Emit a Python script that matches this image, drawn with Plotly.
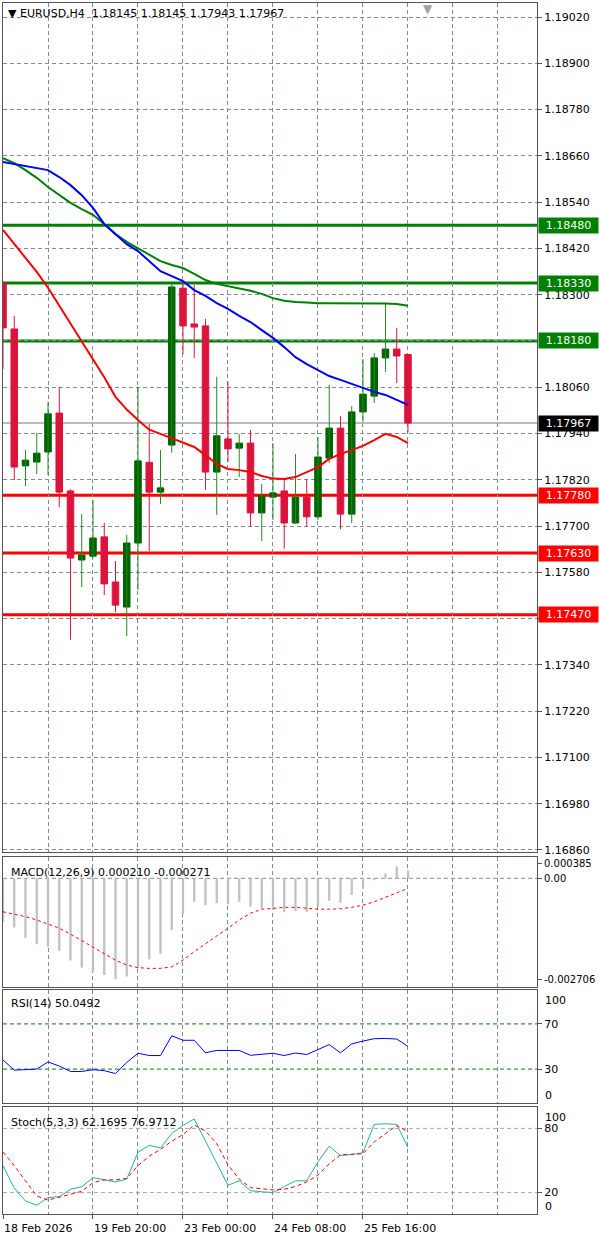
import plotly.graph_objects as go
from plotly.subplots import make_subplots

W, H = 600, 1239
ML, MR, MT, MB = 3, 63, 3, 25

# x axis labels (bar index -> text)
TICK_BARS = [0, 8, 16, 24, 32]
TICK_TEXT = ["18 Feb 2026", "19 Feb 20:00", "23 Feb 00:00", "24 Feb 08:00", "25 Feb 16:00"]

# price scale of the main window
PRICE_TICKS = [1.16860, 1.16980, 1.17100, 1.17220, 1.17340, 1.17460, 1.17580, 1.17700, 1.17820,
               1.17940, 1.18060, 1.18180, 1.18300, 1.18420, 1.18540, 1.18660, 1.18780, 1.18900, 1.19020]
HIDDEN_TICKS = [1.17460, 1.18180]  # covered by the level boxes in MT4

# EURUSD H4 candles
OPEN = [1.18330, 1.18211, 1.17856, 1.17866, 1.17892, 1.17993, 1.17791, 1.17612, 1.17622, 1.17672,
        1.17555, 1.17490, 1.17656, 1.17865, 1.17788, 1.17910, 1.18317, 1.18224, 1.18219, 1.17840,
        1.17926, 1.17902, 1.17915, 1.17734, 1.17775, 1.17791, 1.17708, 1.17775, 1.17724, 1.17876,
        1.17954, 1.17731, 1.17996, 1.18037, 1.18136, 1.18159, 1.18145]
HIGH = [1.18335, 1.18245, 1.17897, 1.17941, 1.18022, 1.18061, 1.17795, 1.17731, 1.17768, 1.17708,
        1.17609, 1.17677, 1.18061, 1.17965, 1.17897, 1.18328, 1.18330, 1.18325, 1.18237, 1.18087,
        1.18074, 1.17939, 1.17949, 1.17809, 1.17915, 1.17819, 1.17887, 1.17822, 1.17931, 1.18066,
        1.17985, 1.18011, 1.18133, 1.18149, 1.18276, 1.18214, 1.18145]
LOW = [1.18107, 1.17819, 1.17804, 1.17835, 1.17832, 1.17749, 1.17405, 1.17542, 1.17617, 1.17521,
       1.17477, 1.17415, 1.17534, 1.17635, 1.17757, 1.17890, 1.18146, 1.18136, 1.17794, 1.17729,
       1.17866, 1.17827, 1.17698, 1.17661, 1.17716, 1.17641, 1.17705, 1.17698, 1.17716, 1.17864,
       1.17692, 1.17708, 1.17970, 1.18019, 1.18100, 1.18071, 1.17943]
CLOSE = [1.18214, 1.17853, 1.17871, 1.17889, 1.17991, 1.17788, 1.17617, 1.17625, 1.17669, 1.17550,
         1.17495, 1.17656, 1.17869, 1.17788, 1.17799, 1.18320, 1.18219, 1.18216, 1.17840, 1.17934,
         1.17900, 1.17915, 1.17734, 1.17778, 1.17786, 1.17708, 1.17775, 1.17724, 1.17879, 1.17954,
         1.17731, 1.17996, 1.18042, 1.18136, 1.18159, 1.18141, 1.17967]

# moving averages
MA_BLUE = [1.18644, 1.18639, 1.18634, 1.18628, 1.18623, 1.18605, 1.18584, 1.18558, 1.18525, 1.18483,
           1.18457, 1.18431, 1.18413, 1.18387, 1.18361, 1.18348, 1.18335, 1.18312, 1.18297, 1.18278,
           1.18263, 1.18245, 1.18229, 1.18208, 1.18188, 1.18164, 1.18138, 1.18120, 1.18105, 1.18089,
           1.18079, 1.18068, 1.18058, 1.18048, 1.18040, 1.18027, 1.18014]
MA_GREEN = [1.18654, 1.18641, 1.18623, 1.18603, 1.18579, 1.18558, 1.18538, 1.18522, 1.18507, 1.18483,
            1.18457, 1.18437, 1.18421, 1.18405, 1.18387, 1.18377, 1.18369, 1.18354, 1.18338, 1.18328,
            1.18322, 1.18315, 1.18310, 1.18302, 1.18291, 1.18284, 1.18281, 1.18280, 1.18278, 1.18278,
            1.18278, 1.18278, 1.18278, 1.18278, 1.18277, 1.18276, 1.18271]
MA_RED = [1.18468, 1.18432, 1.18395, 1.18359, 1.18318, 1.18271, 1.18224, 1.18177, 1.18132, 1.18086,
          1.18035, 1.18002, 1.17975, 1.17950, 1.17939, 1.17928, 1.17915, 1.17905, 1.17884, 1.17861,
          1.17848, 1.17845, 1.17840, 1.17830, 1.17823, 1.17822, 1.17827, 1.17840, 1.17853, 1.17874,
          1.17887, 1.17897, 1.17908, 1.17923, 1.17939, 1.17931, 1.17915]

RESIST_LEVELS = [1.18480, 1.18330, 1.18180]
SUPPORT_LEVELS = [1.17780, 1.17630, 1.17470]
LAST_PRICE = 1.17967

MACD_MAIN = [-0.00117, -0.00132, -0.00160, -0.00177, -0.00184, -0.00195, -0.00221, -0.00240, -0.00251, -0.00260,
             -0.002706, -0.00264, -0.00242, -0.00218, -0.00203, -0.00139, -0.00096, -0.00063, -0.00072, -0.00067,
             -0.00070, -0.00063, -0.00076, -0.00081, -0.00085, -0.00091, -0.00088, -0.00090, -0.00077, -0.00060,
             -0.00066, -0.00045, -0.00027, -0.00005, 0.00013, 0.00032, 0.00021]
MACD_SIGNAL = [-0.00090, -0.00096, -0.00103, -0.00112, -0.00123, -0.00134, -0.00150, -0.00168, -0.00184, -0.00203,
               -0.00220, -0.00233, -0.00240, -0.00242, -0.00242, -0.00238, -0.00220, -0.00197, -0.00175, -0.00155,
               -0.00134, -0.00112, -0.00094, -0.00083, -0.00081, -0.00078, -0.00078, -0.00081, -0.00083, -0.00083,
               -0.00082, -0.00078, -0.00072, -0.00063, -0.00051, -0.00040, -0.000271]
MACD_TICKS = [0.000385, 0.0, -0.002706]
MACD_TICK_TEXT = ["0.000385", "0.00", "-0.002706"]
MACD_LEVELS = [0.0]

RSI_VALUES = [38.1, 29.1, 29.5, 30.0, 36.3, 32.7, 27.9, 27.9, 29.5, 28.6,
              26.1, 35.9, 44.0, 42.0, 42.0, 59.5, 55.5, 55.5, 44.4, 46.5,
              46.5, 46.5, 42.2, 43.1, 44.0, 42.0, 44.2, 42.9, 47.4, 51.7,
              44.4, 52.3, 54.8, 56.9, 57.1, 56.6, 50.0492]
RSI_LEVELS = [70, 30]

STOCH_K = [45.2, 24.1, 12.2, 8.2, 15.3, 16.2, 23.1, 25.5, 34.0, 31.9,
           30.0, 32.6, 57.7, 64.2, 61.7, 75.3, 82.8, 88.8, 67.7, 47.3,
           26.9, 31.0, 21.7, 20.8, 20.0, 25.7, 31.0, 31.0, 48.7, 63.4,
           54.6, 55.6, 57.3, 83.8, 84.3, 83.8, 62.1695]
STOCH_D = [57.9, 45.2, 31.0, 16.8, 13.0, 15.8, 18.9, 21.2, 29.3, 31.9,
           31.9, 33.2, 45.2, 54.1, 60.4, 68.0, 74.3, 83.1, 77.6, 65.8,
           45.9, 32.6, 24.7, 23.6, 22.5, 23.1, 25.7, 30.0, 36.4, 46.8,
           55.4, 55.8, 56.3, 67.4, 75.3, 82.6, 76.9712]
STOCH_LEVELS = [80, 20]

BULL = "#006400"
BULL_WICK = "#228b22"
BEAR = "#dc143c"
GRID = "#7f8c99"
DASH = "4px,3px"
BORDER = "#555555"
FONT = dict(family="DejaVu Sans", size=11, color="black")

# panel pixel bounds (top, bottom) in the page
PANELS = [(3, 852), (857, 987), (990, 1103), (1107, 1214)]
PLOT_H = H - MT - MB


def frac(py):
    return (H - MB - py) / PLOT_H


bars = list(range(len(OPEN)))
bull = [i for i in bars if CLOSE[i] >= OPEN[i]]
bear = [i for i in bars if CLOSE[i] < OPEN[i]]

fig = make_subplots(rows=4, cols=1, shared_xaxes=True)

# wicks
for idx, col in ((bull, BULL_WICK), (bear, BEAR)):
    wx, wy = [], []
    for i in idx:
        wx += [i, i, None]
        wy += [LOW[i], HIGH[i], None]
    fig.add_trace(go.Scatter(x=wx, y=wy, mode="lines", line=dict(color=col, width=1),
                             hoverinfo="skip"), row=1, col=1)

# bodies
fig.add_trace(go.Bar(x=bull, y=[CLOSE[i] - OPEN[i] for i in bull], base=[OPEN[i] for i in bull],
                     width=0.58, marker=dict(color=BULL, line=dict(color=BULL, width=1))), row=1, col=1)
fig.add_trace(go.Bar(x=bear, y=[OPEN[i] - CLOSE[i] for i in bear], base=[CLOSE[i] for i in bear],
                     width=0.58, marker=dict(color=BEAR, line=dict(color=BEAR, width=1))), row=1, col=1)

for ma, col in ((MA_GREEN, "#008000"), (MA_BLUE, "#0000ff"), (MA_RED, "#ff0000")):
    fig.add_trace(go.Scatter(x=bars, y=ma, mode="lines", line=dict(color=col, width=2)), row=1, col=1)

# MACD
fig.add_trace(go.Bar(x=bars, y=MACD_MAIN, width=0.2, marker=dict(color="#c0c0c0", line=dict(width=0))),
              row=2, col=1)
fig.add_trace(go.Scatter(x=bars, y=MACD_SIGNAL, mode="lines",
                         line=dict(color="#ff0000", width=1, dash="3px,3px")), row=2, col=1)

# RSI
fig.add_trace(go.Scatter(x=bars, y=RSI_VALUES, mode="lines", line=dict(color="#0000ff", width=1)),
              row=3, col=1)

# Stochastic
fig.add_trace(go.Scatter(x=bars, y=STOCH_K, mode="lines", line=dict(color="#20b2aa", width=1)),
              row=4, col=1)
fig.add_trace(go.Scatter(x=bars, y=STOCH_D, mode="lines",
                         line=dict(color="#ff0000", width=1, dash=DASH)), row=4, col=1)

# horizontal levels
for lv in RESIST_LEVELS:
    fig.add_hline(y=lv, line=dict(color="#008000", width=3), layer="below", row=1, col=1)
for lv in SUPPORT_LEVELS:
    fig.add_hline(y=lv, line=dict(color="#ff0000", width=3), layer="below", row=1, col=1)
fig.add_hline(y=LAST_PRICE, line=dict(color="#a0a6ae", width=1.5), layer="below", row=1, col=1)
for lv in MACD_LEVELS:
    fig.add_hline(y=lv, line=dict(color=GRID, width=1, dash=DASH), layer="below", row=2, col=1)
for lv in RSI_LEVELS:
    fig.add_hline(y=lv, line=dict(color="#008000", width=1, dash=DASH), layer="below", row=3, col=1)
for lv in STOCH_LEVELS:
    fig.add_hline(y=lv, line=dict(color="#a8a8a8", width=1, dash=DASH), layer="below", row=4, col=1)

# axes
fig.update_xaxes(range=[0, 47.47], showgrid=True, gridcolor=GRID, gridwidth=1, griddash=DASH,
                 tickvals=TICK_BARS, ticktext=TICK_TEXT,
                 minor=dict(dtick=4, tick0=0, showgrid=True, gridcolor=GRID, gridwidth=1,
                            griddash=DASH, ticks=""),
                 showline=True, mirror=True, linecolor=BORDER, linewidth=1, zeroline=False,
                 ticks="", tickfont=FONT)
fig.update_xaxes(ticks="outside", ticklen=4, tickcolor=BORDER, ticklabelposition="outside right",
                 ticklabelstandoff=4, row=4, col=1)

yax = dict(side="right", showline=True, mirror=True, linecolor=BORDER, linewidth=1, zeroline=False,
           ticks="outside", ticklen=4, tickcolor=BORDER, tickfont=FONT)
fig.update_yaxes(**yax)
fig.update_yaxes(range=[1.168548, 1.190563], tickvals=PRICE_TICKS,
                 ticktext=["" if t in HIDDEN_TICKS else "%.5f" % t for t in PRICE_TICKS],
                 showgrid=True, gridcolor=GRID, gridwidth=1, griddash=DASH, row=1, col=1)
fig.update_yaxes(range=[-0.002921, 0.000573], tickvals=MACD_TICKS, ticktext=MACD_TICK_TEXT,
                 showgrid=False, tickfont=dict(family="DejaVu Sans", size=10, color="black"),
                 row=2, col=1)
fig.update_yaxes(range=[0, 100], tickvals=RSI_LEVELS, showgrid=False, row=3, col=1)
fig.update_yaxes(range=[0, 100], tickvals=STOCH_LEVELS, showgrid=False, row=4, col=1)

doms = {}
for k, (top, bot) in enumerate(PANELS):
    name = "yaxis" if k == 0 else "yaxis%d" % (k + 1)
    doms[name] = dict(domain=[max(0, frac(bot)), min(1, frac(top))])
fig.update_layout(**doms)

ann = []
xl = (9 - ML) / (W - ML - MR)


def panel_y(k, py):
    top, bot = PANELS[k]
    return (bot - py) / (bot - top)


def yd(k):
    return "y domain" if k == 0 else "y%d domain" % (k + 1)


ann.append(dict(text="\u25bc EURUSD,H4  1.18145 1.18145 1.17943 1.17967", x=(6 - ML) / (W - ML - MR),
                xref="paper", y=panel_y(0, 14), yref=yd(0), xanchor="left", yanchor="middle",
                showarrow=False, font=FONT))
ann.append(dict(text="MACD(12,26,9) 0.000210 -0.000271", x=xl, xref="paper", y=panel_y(1, 872),
                yref=yd(1), xanchor="left", yanchor="middle", showarrow=False, font=FONT))
ann.append(dict(text="RSI(14) 50.0492", x=xl, xref="paper", y=panel_y(2, 1003), yref=yd(2),
                xanchor="left", yanchor="middle", showarrow=False, font=FONT))
ann.append(dict(text="Stoch(5,3,3) 62.1695 76.9712", x=xl, xref="paper", y=panel_y(3, 1122), yref=yd(3),
                xanchor="left", yanchor="middle", showarrow=False, font=FONT))

# edge scale labels of the 0-100 windows
for k, py_top, py_bot in ((2, 1000, 1095), (3, 1117, 1206)):
    ann.append(dict(text="100", x=1, xref="paper", xshift=6, y=panel_y(k, py_top), yref=yd(k),
                    xanchor="left", yanchor="middle", showarrow=False, font=FONT))
    ann.append(dict(text="0", x=1, xref="paper", xshift=6, y=panel_y(k, py_bot), yref=yd(k),
                    xanchor="left", yanchor="middle", showarrow=False, font=FONT))

# price boxes on the right scale
for levels, col in ((RESIST_LEVELS, "#008000"), (SUPPORT_LEVELS, "#ff0000"), ([LAST_PRICE], "#000000")):
    for lv in levels:
        ann.append(dict(text="%.5f" % lv, x=1, xref="paper", xshift=1, y=lv, yref="y",
                        xanchor="left", yanchor="middle", showarrow=False, bgcolor=col,
                        width=55, height=11, borderpad=2, align="center",
                        font=dict(family="DejaVu Sans", size=11, color="white")))

# chart shift marker
ann.append(dict(text="\u25bc", x=(428 - ML) / (W - ML - MR), xref="paper", y=1, yref="paper",
                yshift=3, xanchor="center", yanchor="top", showarrow=False,
                font=dict(family="DejaVu Sans", size=12, color="#a0a0a0")))

fig.update_layout(width=W, height=H, margin=dict(l=ML, r=MR, t=MT, b=MB, pad=0),
                  paper_bgcolor="white", plot_bgcolor="white", showlegend=False,
                  barmode="overlay", annotations=ann, font=FONT)

fig.write_html("out.html", config={"displayModeBar": False},
               post_script="document.body.style.margin='0px';")
